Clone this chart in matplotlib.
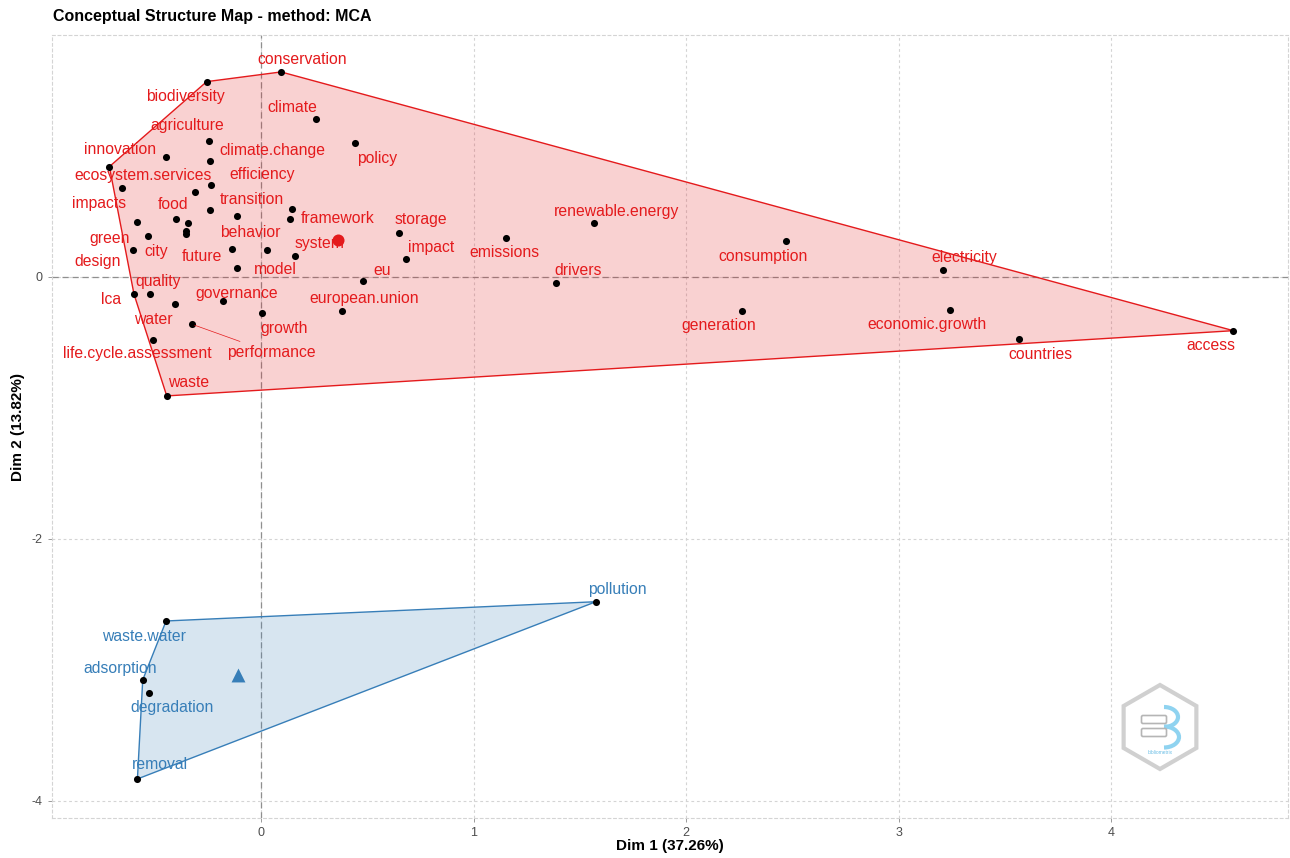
import numpy as np
import matplotlib
matplotlib.use("Agg")
import matplotlib.pyplot as plt
from matplotlib.patches import Polygon, RegularPolygon, FancyBboxPatch, Arc

plt.rcParams['font.family'] = ['Liberation Sans', 'DejaVu Sans']
plt.rcParams['axes.unicode_minus'] = False

# cluster 1 words and their MCA coordinates ("" = label dropped by the repel step)
words_1 = ["conservation", "biodiversity", "climate", "agriculture", "innovation",
           "climate.change", "ecosystem.services", "efficiency", "impacts", "food",
           "", "transition", "framework", "", "behavior", "green", "", "future", "",
           "city", "design", "", "model", "system", "", "lca", "quality", "water",
           "governance", "growth", "european.union", "performance",
           "life.cycle.assessment", "waste", "policy", "storage", "impact", "eu",
           "emissions", "renewable.energy", "drivers", "consumption", "generation",
           "electricity", "economic.growth", "countries", "access"]
dim1_1 = [0.094, -0.256, 0.257, -0.243, -0.447, -0.240, -0.714, -0.235, -0.656, -0.401,
          -0.311, -0.240, 0.136, 0.144, -0.111, -0.582, -0.342, -0.353, -0.353, -0.533,
          -0.604, -0.137, 0.027, 0.160, -0.113, -0.598, -0.522, -0.403, -0.180, 0.006,
          0.382, -0.325, -0.507, -0.444, 0.442, 0.649, 0.682, 0.481, 1.153, 1.568,
          1.388, 2.469, 2.262, 3.211, 3.242, 3.567, 4.576]
dim2_1 = [1.565, 1.491, 1.204, 1.040, 0.914, 0.882, 0.842, 0.705, 0.677, 0.440,
          0.647, 0.508, 0.443, 0.519, 0.462, 0.418, 0.412, 0.353, 0.326, 0.315,
          0.206, 0.216, 0.202, 0.160, 0.070, -0.132, -0.132, -0.206, -0.187, -0.275,
          -0.260, -0.361, -0.481, -0.908, 1.021, 0.334, 0.135, -0.031, 0.300, 0.410,
          -0.044, 0.275, -0.260, 0.053, -0.252, -0.476, -0.410]

# cluster 2
words_2 = ["waste.water", "adsorption", "degradation", "removal", "pollution"]
dim1_2 = [-0.447, -0.557, -0.526, -0.582, 1.576]
dim2_2 = [-2.626, -3.076, -3.173, -3.832, -2.479]

# repelled label positions
label_at = {
    "conservation": (0.192, 1.662), "biodiversity": (-0.354, 1.376),
    "climate": (0.149, 1.295), "agriculture": (-0.348, 1.153),
    "innovation": (-0.664, 0.975), "climate.change": (0.053, 0.969),
    "ecosystem.services": (-0.554, 0.771), "efficiency": (0.003, 0.779),
    "impacts": (-0.762, 0.563), "food": (-0.416, 0.550),
    "transition": (-0.044, 0.593), "framework": (0.358, 0.448),
    "behavior": (-0.050, 0.341), "green": (-0.712, 0.295),
    "future": (-0.278, 0.155), "city": (-0.493, 0.198),
    "design": (-0.770, 0.117), "model": (0.066, 0.059),
    "system": (0.273, 0.252), "lca": (-0.707, -0.170),
    "quality": (-0.483, -0.036), "water": (-0.507, -0.323),
    "governance": (-0.113, -0.124), "growth": (0.108, -0.392),
    "european.union": (0.483, -0.163), "performance": (0.048, -0.578),
    "life.cycle.assessment": (-0.584, -0.588), "waste": (-0.342, -0.807),
    "policy": (0.544, 0.906), "storage": (0.753, 0.435),
    "impact": (0.799, 0.227), "eu": (0.568, 0.053),
    "emissions": (1.144, 0.189), "renewable.energy": (1.671, 0.498),
    "drivers": (1.493, 0.053), "consumption": (2.364, 0.160),
    "generation": (2.155, -0.372), "electricity": (3.308, 0.150),
    "economic.growth": (3.134, -0.366), "countries": (3.667, -0.590),
    "access": (4.471, -0.527),
    "waste.water": (-0.551, -2.746), "adsorption": (-0.664, -2.987),
    "degradation": (-0.419, -3.288), "removal": (-0.475, -3.725),
    "pollution": (1.679, -2.384),
}
with_segment = {"performance"}

RED = "#E41A1C"
BLUE = "#377EB8"


def convex_hull(xs, ys):
    pts = sorted(set(zip(xs, ys)))

    def cross(o, a, b):
        return (a[0] - o[0]) * (b[1] - o[1]) - (a[1] - o[1]) * (b[0] - o[0])

    lower, upper = [], []
    for p in pts:
        while len(lower) >= 2 and cross(lower[-2], lower[-1], p) <= 0:
            lower.pop()
        lower.append(p)
    for p in reversed(pts):
        while len(upper) >= 2 and cross(upper[-2], upper[-1], p) <= 0:
            upper.pop()
        upper.append(p)
    return np.array(lower[:-1] + upper[:-1])


fig = plt.figure(figsize=(12.9, 8.58), dpi=100)
ax = fig.add_axes([52 / 1290, 1 - 818 / 858, (1288 - 52) / 1290, (818 - 35) / 858])

ax.set_xlim(-0.984, 4.833)
ax.set_ylim(-4.13, 1.847)

# grid and panel border
ax.set_xticks([0, 1, 2, 3, 4])
ax.set_yticks([-4, -2, 0])
ax.grid(True, color="#d4d4d4", linestyle=(0, (2.5, 2.5)), linewidth=0.8)
ax.set_axisbelow(True)
for sp in ax.spines.values():
    sp.set_color("#d4d4d4")
    sp.set_linestyle((0, (2.5, 2.5)))
    sp.set_linewidth(0.8)
ax.tick_params(colors="#8a8a8a", labelcolor="#4d4d4d", labelsize=9, length=3, width=0.6)

ax.axhline(0, color="#8f8f8f", linestyle=(0, (5, 3)), linewidth=0.9, zorder=1)
ax.axvline(0, color="#8f8f8f", linestyle=(0, (5, 3)), linewidth=0.9, zorder=1)

for wx, wy, col in [(dim1_1, dim2_1, RED), (dim1_2, dim2_2, BLUE)]:
    h = convex_hull(wx, wy)
    ax.add_patch(Polygon(h, closed=True, facecolor=col, alpha=0.2, edgecolor="none", zorder=2))
    ax.add_patch(Polygon(h, closed=True, facecolor="none", edgecolor=col, linewidth=1.0, zorder=3))

ax.scatter(dim1_1, dim2_1, s=26, color="black", zorder=5, linewidths=0)
ax.scatter(dim1_2, dim2_2, s=26, color="black", zorder=5, linewidths=0)

# cluster centroids
ax.scatter([np.mean(dim1_1)], [np.mean(dim2_1)], s=75, marker="o", color=RED, zorder=6, linewidths=0)
ax.scatter([np.mean(dim1_2)], [np.mean(dim2_2)], s=100, marker="^", color=BLUE, zorder=6, linewidths=0)

for words, wx, wy, col in [(words_1, dim1_1, dim2_1, RED), (words_2, dim1_2, dim2_2, BLUE)]:
    for w, x, y in zip(words, wx, wy):
        if not w:
            continue
        lx, ly = label_at[w]
        if w in with_segment:
            ax.annotate(w, xy=(x, y), xytext=(lx, ly), color=col, fontsize=11.3,
                        ha="center", va="center", zorder=7,
                        arrowprops=dict(arrowstyle="-", color=col, lw=0.5,
                                        shrinkA=2, shrinkB=2))
        else:
            ax.text(lx, ly, w, color=col, fontsize=11.3, ha="center", va="center", zorder=7)

fig.text(53 / 1290, 1 - 16 / 858, "Conceptual Structure Map - method: MCA",
         fontsize=11.5, fontweight="bold", ha="left", va="center")
fig.text(670 / 1290, 1 - 846 / 858, "Dim 1 (37.26%)", fontsize=11, fontweight="bold",
         ha="center", va="center")
fig.text(18 / 1290, 1 - 427 / 858, "Dim 2 (13.82%)", fontsize=11, fontweight="bold",
         ha="center", va="center", rotation=90)

# bibliometrix hex logo
lg = fig.add_axes([(1160 - 50) / 1290, 1 - (727 + 50) / 858, 100 / 1290, 100 / 858])
lg.set_xlim(-1, 1)
lg.set_ylim(-1, 1)
lg.set_aspect("equal")
lg.axis("off")
lg.add_patch(RegularPolygon((0, 0), 6, radius=0.84, orientation=0, facecolor="white",
                            edgecolor="#d0d0d0", linewidth=3))
lg.add_patch(Arc((0.08, 0.2), 0.56, 0.4, theta1=-90, theta2=90, color="#8fd3f0", lw=3))
lg.add_patch(Arc((0.08, -0.2), 0.6, 0.42, theta1=-90, theta2=90, color="#8fd3f0", lw=3))
lg.add_patch(FancyBboxPatch((-0.34, 0.1), 0.44, 0.1, boxstyle="round,pad=0.03",
                            facecolor="white", edgecolor="#b5b5b5", lw=1.2))
lg.add_patch(FancyBboxPatch((-0.34, -0.16), 0.44, 0.1, boxstyle="round,pad=0.03",
                            facecolor="white", edgecolor="#b5b5b5", lw=1.2))
lg.text(0.0, -0.52, "bibliometrix", fontsize=3.5, color="#6cbfe6", ha="center", va="center")

fig.savefig("out.png", dpi=100)
